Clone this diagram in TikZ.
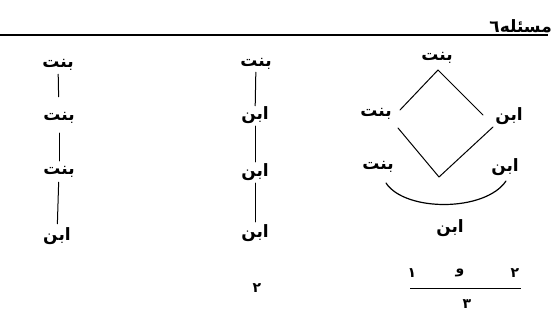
\documentclass[tikz,border=0pt]{standalone}
\usepackage{fontspec}
\TeXXeTstate=1
\newfontfamily\arabicfont[Script=Arabic]{DejaVu Sans}
\tikzset{
  word/.style={font=\arabicfont\bfseries\fontsize{17}{17}\selectfont, inner sep=0pt, text height=12pt, text depth=4pt},
  num/.style={font=\arabicfont\bfseries\fontsize{14}{14}\selectfont, inner sep=0pt},
  link/.style={line width=1pt, line cap=round},
}
\newcommand{\ar}[1]{\beginR #1\endR}
\begin{document}
\begin{tikzpicture}[x=1pt,y=-1pt]
\useasboundingbox (0,0) rectangle (553,320);
% header
\node[font=\arabicfont\bfseries\fontsize{17}{17}\selectfont, anchor=south east, inner sep=0pt] (head) at (552,33) {\ar{مسئله٦}};
\coordinate (hl) at (0,35);
\coordinate (hr) at (548,35);
\draw[line width=1.6pt] (hl) -- (hr);

% left column
\node[word] (a1) at (58,64) {\ar{بنت}};
\node[word] (a2) at (59,117) {\ar{بنت}};
\node[word] (a3) at (59,171) {\ar{بنت}};
\node[word] (a4) at (57,236) {\ar{ابن}};
\draw[link, shorten >=12pt, shorten <=2pt] (a1) -- (a2);
\draw[link, shorten >=2pt, shorten <=8pt] (a2) -- (a3);
\draw[link, shorten >=4pt, shorten <=3pt] (a3) -- (a4);

% middle column
\node[word] (b1) at (256,63) {\ar{بنت}};
\node[word] (b2) at (255,116) {\ar{ابن}};
\node[word] (b3) at (255,173) {\ar{ابن}};
\node[word] (b4) at (255,233) {\ar{ابن}};
\draw[link, shorten >=2pt, shorten <=1pt] (b1) -- (b2);
\draw[link, shorten >=3pt, shorten <=2pt] (b2) -- (b3);
\draw[link, shorten >=3pt, shorten <=2pt] (b3) -- (b4);
\node[num] (n2) at (257,288) {۲};

% right: diamond
\node[word] (c1) at (437,57) {\ar{بنت}};
\node[word] (c2) at (376,113) {\ar{بنت}};
\node[word] (c3) at (509,117) {\ar{ابن}};
\node[word] (c4) at (378,166) {\ar{بنت}};
\node[word] (c5) at (505,168) {\ar{ابن}};
\node[word] (c6) at (450,228) {\ar{ابن}};
\coordinate (vt) at (438,70);
\coordinate (vl1) at (400,110);
\coordinate (vl2) at (398,128);
\coordinate (vr1) at (483,115);
\coordinate (vr2) at (493,127);
\coordinate (vb) at (439,177);
\draw[link] (vl1) -- (vt) -- (vr1);
\draw[link] (vl2) -- (vb) -- (vr2);
\coordinate (arcL) at (386,183);
\coordinate (arcR) at (506,181);
\draw[link, line width=1.2pt] (arcL) .. controls (405,212) and (485,212) .. (arcR);

% fraction
\node[num] (f1) at (412,273) {۱};
\node[num] (f2) at (460,273) {\ar{و}};
\node[num] (f3) at (515,273) {۲};
\coordinate (fl) at (410,288);
\coordinate (fr) at (521,288);
\draw[line width=1pt] (fl) -- (fr);
\node[num] (f4) at (467,304) {۳};
\end{tikzpicture}
\end{document}
